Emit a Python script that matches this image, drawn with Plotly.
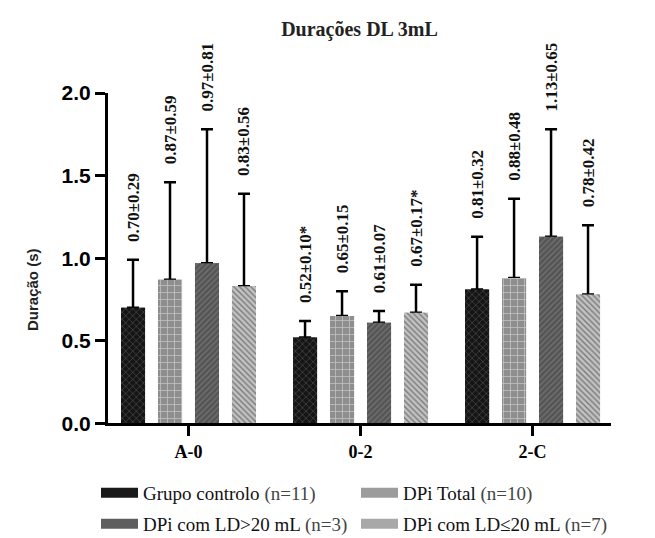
import plotly.graph_objects as go

# ---- data ----
categories = ["A-0", "0-2", "2-C"]
series_names = ["Grupo controlo", "DPi Total", "DPi com LD>20 mL", "DPi com LD≤20 mL"]
series_n = ["(n=11)", "(n=10)", "(n=3)", "(n=7)"]

means_controlo = [0.70, 0.52, 0.81]
sd_controlo = [0.29, 0.10, 0.32]
sig_controlo = ["", "*", ""]

means_total = [0.87, 0.65, 0.88]
sd_total = [0.59, 0.15, 0.48]
sig_total = ["", "", ""]

means_ld_gt20 = [0.97, 0.61, 1.13]
sd_ld_gt20 = [0.81, 0.07, 0.65]
sig_ld_gt20 = ["", "", ""]

means_ld_le20 = [0.83, 0.67, 0.78]
sd_ld_le20 = [0.56, 0.17, 0.42]
sig_ld_le20 = ["", "*", ""]

y_ticks = [0.0, 0.5, 1.0, 1.5, 2.0]

# ---- styles ----
SERIF = "Liberation Serif, Times New Roman, serif"
SANS = "Liberation Sans, Arial, sans-serif"
LABEL_PAD = 0.09

patterns = [
    dict(shape="x", bgcolor="#151515", fgcolor="#4a4a4a", size=5, solidity=0.25, fillmode="replace"),
    dict(shape="+", bgcolor="#8e8e8e", fgcolor="#c4c4c4", size=7, solidity=0.2, fillmode="replace"),
    dict(shape="/", bgcolor="#545454", fgcolor="#727272", size=4, solidity=0.35, fillmode="replace"),
    dict(shape="\\", bgcolor="#c2c2c2", fgcolor="#7a7a7a", size=4, solidity=0.35, fillmode="replace"),
]
swatch_colors = ["#1a1a1a", "#9c9c9c", "#5e5e5e", "#a8a8a8"]
legend_ids = ["legend", "legend2", "legend3", "legend4"]

all_means = [means_controlo, means_total, means_ld_gt20, means_ld_le20]
all_sds = [sd_controlo, sd_total, sd_ld_gt20, sd_ld_le20]
all_sigs = [sig_controlo, sig_total, sig_ld_gt20, sig_ld_le20]

fig = go.Figure()
for i, (name, n, m, s, sig, pat) in enumerate(zip(series_names, series_n, all_means, all_sds, all_sigs, patterns)):
    grp = f"g{i}"
    # bar with upper error bar
    fig.add_trace(go.Bar(
        x=categories, y=m, name=name,
        offsetgroup=grp, legendgroup=grp, showlegend=False,
        marker=dict(color=pat["bgcolor"], line=dict(width=0), pattern=pat),
        error_y=dict(type="data", symmetric=False, array=s, arrayminus=[0] * len(s),
                     color="black", thickness=2.5, width=6),
        hoverinfo="skip",
    ))
    # same bar on top, hiding the lower cap of the error bar
    fig.add_trace(go.Bar(
        x=categories, y=m, offsetgroup=grp, legendgroup=grp, showlegend=False,
        marker=dict(color=pat["bgcolor"], line=dict(width=0), pattern=pat),
        hoverinfo="skip",
    ))
    # invisible bar above the error bar carrying the value label
    labels = [f"{a:.2f}±{b:.2f}{c}" for a, b, c in zip(m, s, sig)]
    fig.add_trace(go.Bar(
        x=categories, y=[LABEL_PAD] * len(m), base=[a + b for a, b in zip(m, s)],
        offsetgroup=grp, showlegend=False,
        marker=dict(color="rgba(0,0,0,0)", line=dict(width=0)),
        text=labels, textposition="outside", textangle=-90, constraintext="none",
        outsidetextfont=dict(family=SERIF, size=17, color="#111"),
        texttemplate="<b>%{text}</b>",
        cliponaxis=False, hoverinfo="skip",
    ))
    # legend entry (wide rectangular swatch)
    fig.add_trace(go.Scatter(
        x=[None], y=[None], mode="lines", name=f"{name} <span style='color:#444'>{n}</span>",
        line=dict(color=swatch_colors[i], width=10), legend=legend_ids[i],
        legendgroup=grp, hoverinfo="skip",
    ))

legend_common = dict(orientation="h", xanchor="left", yanchor="middle",
                     xref="container", yref="container", itemwidth=37,
                     font=dict(family=SERIF, size=19, color="#111"),
                     bgcolor="rgba(0,0,0,0)")
legend_pos = [(88, 485), (348, 485), (88, 516), (348, 516)]

layout_legends = {}
for lid, (lx, ly) in zip(legend_ids, legend_pos):
    layout_legends[lid] = dict(legend_common, x=lx / 655, y=1 - ly / 538)

fig.update_layout(
    width=655, height=538,
    margin=dict(l=100, r=52, t=85, b=121),
    paper_bgcolor="white", plot_bgcolor="white",
    barmode="group", bargap=0.14, bargroupgap=0.35,
    showlegend=True,
    title=dict(text="<b>Durações DL 3mL</b>", x=0.5, xref="paper", xanchor="center",
               y=1 - 21 / 538, yref="container", yanchor="middle",
               font=dict(family=SERIF, size=20, color="#222")),
    xaxis=dict(
        range=[-0.468, 2.456], showgrid=False, zeroline=False,
        showline=True, linecolor="black", linewidth=3,
        ticks="outside", ticklen=10, tickwidth=3, tickcolor="black",
        tickfont=dict(family=SERIF, size=18, color="black"),
        tickmode="array", tickvals=categories, ticktext=[f"<b>{c}</b>" for c in categories],
    ),
    yaxis=dict(
        range=[0, 2.0], showgrid=False, zeroline=False,
        showline=True, linecolor="black", linewidth=3,
        ticks="outside", ticklen=10, tickwidth=3, tickcolor="black",
        tickvals=y_ticks, ticktext=[f"<b>{v:.1f}</b>" for v in y_ticks],
        tickfont=dict(family=SANS, size=21, color="black"),
    ),
    annotations=[dict(text="<b>Duração (s)</b>", textangle=-90, xref="paper", yref="paper",
                      x=-76 / 503, y=(417 - 283) / 332, xanchor="center", yanchor="middle",
                      showarrow=False, font=dict(family=SANS, size=15, color="#222"))],
    **layout_legends,
)

fig.write_html("out.html")
